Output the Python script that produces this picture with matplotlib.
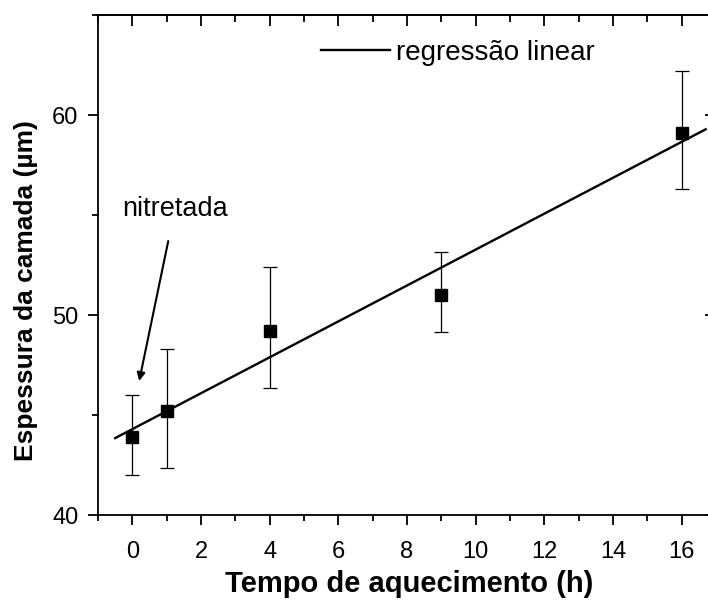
import numpy as np
import matplotlib
matplotlib.use("Agg")
import matplotlib.pyplot as plt
from matplotlib.ticker import MultipleLocator

plt.rcParams['font.family'] = ['Liberation Sans', 'DejaVu Sans']

# Data
tempo = [0, 1, 4, 9, 16]
espessura = [43.9, 45.2, 49.2, 51.0, 59.1]
erro_inf = [42.0, 42.35, 46.35, 49.15, 56.3]
erro_sup = [46.0, 48.3, 52.4, 53.15, 62.2]
fit_range = [-0.5, 16.7]
xticks = [0, 2, 4, 6, 8, 10, 12, 14, 16]
yticks = [40, 50, 60]

fig = plt.figure(figsize=(7.08, 6.01), dpi=100)
ax = fig.add_axes([98/708, 1-515/601, (716-98)/708, (515-15)/601])

y = np.array(espessura)
yerr = np.array([y - np.array(erro_inf), np.array(erro_sup) - y])
ax.errorbar(tempo, espessura, yerr=yerr, fmt='s', color='black', ms=8.5,
            ecolor='black', elinewidth=0.9, capsize=4.8, capthick=0.9, zorder=3)

coef = np.polyfit(tempo, espessura, 1)
xf = np.linspace(fit_range[0], fit_range[1], 50)
line, = ax.plot(xf, np.polyval(coef, xf), color='black', lw=1.7, zorder=2)

ax.set_xlim(-1, 17)
ax.set_ylim(40, 65)
ax.set_xticks(xticks)
ax.set_yticks(yticks)
ax.xaxis.set_minor_locator(MultipleLocator(1))
ax.yaxis.set_minor_locator(MultipleLocator(5))
ax.tick_params(axis='both', which='major', direction='out', length=7, width=1.3,
               labelsize=17, top=False, right=False)
ax.tick_params(axis='x', which='major', pad=12)
ax.tick_params(axis='y', which='major', pad=7)
ax.tick_params(axis='both', which='minor', direction='out', length=4, width=1.3,
               top=False, right=False)

# mirrored inward ticks on top and right
axt = ax.secondary_xaxis('top')
axt.set_xticks(xticks)
axt.xaxis.set_minor_locator(MultipleLocator(1))
axt.tick_params(which='major', direction='in', length=8, width=1.3, labeltop=False)
axt.tick_params(which='minor', direction='in', length=5, width=1.3)
axt.set_xticklabels([])
axr = ax.secondary_yaxis('right')
axr.set_yticks(yticks)
axr.yaxis.set_minor_locator(MultipleLocator(5))
axr.tick_params(which='major', direction='in', length=8, width=1.3)
axr.tick_params(which='minor', direction='in', length=5, width=1.3)
axr.set_yticklabels([])

for s in ax.spines.values():
    s.set_linewidth(1.3)
axt.spines['top'].set_linewidth(1.3)
axr.spines['right'].set_linewidth(1.3)

ax.set_xlabel('Tempo de aquecimento (h)', fontsize=21, fontweight='bold')
ax.xaxis.set_label_coords(0.503, -0.11)
ax.set_ylabel('Espessura da camada (µm)', fontsize=19, fontweight='bold')
ax.yaxis.set_label_coords(-0.097, 0.448)

ax.legend([line], ['regressão linear'], loc='upper left', frameon=False,
          fontsize=20, handlelength=2.5, handletextpad=0.2,
          bbox_to_anchor=(296/708, 1-15/601), bbox_transform=fig.transFigure)

ax.annotate('nitretada', xy=(0.2, 46.7), xytext=(-0.3, 55.3), fontsize=19.5,
            ha='left', va='center',
            arrowprops=dict(arrowstyle='-|>', color='black', lw=1.5,
                            mutation_scale=12, shrinkA=12, shrinkB=0))

fig.savefig('out.png', dpi=100)
